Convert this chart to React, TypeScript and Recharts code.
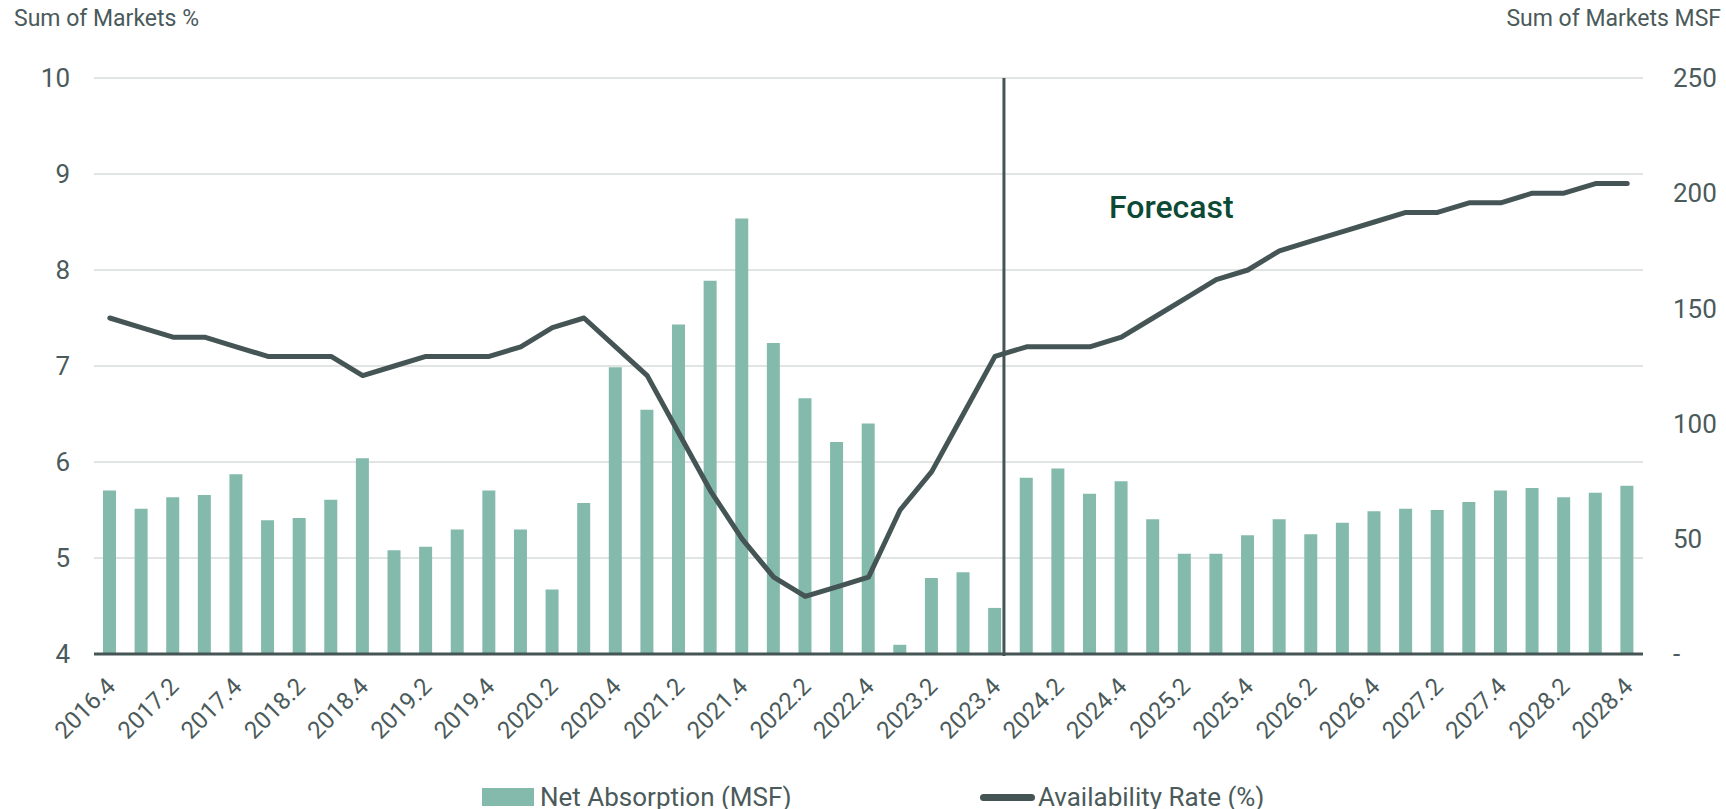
import {
  Bar,
  CartesianGrid,
  ComposedChart,
  Legend,
  Line,
  ReferenceLine,
  XAxis,
  YAxis,
} from "recharts";

const quarters = [
  "2016.4",
  "2017.1", "2017.2", "2017.3", "2017.4",
  "2018.1", "2018.2", "2018.3", "2018.4",
  "2019.1", "2019.2", "2019.3", "2019.4",
  "2020.1", "2020.2", "2020.3", "2020.4",
  "2021.1", "2021.2", "2021.3", "2021.4",
  "2022.1", "2022.2", "2022.3", "2022.4",
  "2023.1", "2023.2", "2023.3", "2023.4",
  "2024.1", "2024.2", "2024.3", "2024.4",
  "2025.1", "2025.2", "2025.3", "2025.4",
  "2026.1", "2026.2", "2026.3", "2026.4",
  "2027.1", "2027.2", "2027.3", "2027.4",
  "2028.1", "2028.2", "2028.3", "2028.4",
];

// Net absorption, MSF (right axis)
const netAbsorption = [
  71,
  63, 68, 69, 78,
  58, 59, 67, 85,
  45, 46.5, 54, 71,
  54, 28, 65.5, 124.5,
  106, 143, 162, 189,
  135, 111, 92, 100,
  4, 33, 35.5, 20,
  76.5, 80.5, 69.5, 75,
  58.5, 43.5, 43.5, 51.5,
  58.5, 52, 57, 62,
  63, 62.5, 66, 71,
  72, 68, 70, 73,
];

// Availability rate, % (left axis)
const availabilityRate = [
  7.5,
  7.4, 7.3, 7.3, 7.2,
  7.1, 7.1, 7.1, 6.9,
  7.0, 7.1, 7.1, 7.1,
  7.2, 7.4, 7.5, 7.2,
  6.9, 6.3, 5.7, 5.2,
  4.8, 4.6, 4.7, 4.8,
  5.5, 5.9, 6.5, 7.1,
  7.2, 7.2, 7.2, 7.3,
  7.5, 7.7, 7.9, 8.0,
  8.2, 8.3, 8.4, 8.5,
  8.6, 8.6, 8.7, 8.7,
  8.8, 8.8, 8.9, 8.9,
];

const leftTicks = [4, 5, 6, 7, 8, 9, 10];
const rightTicks = [0, 50, 100, 150, 200, 250];
const forecastFrom = "2023.4";

const data = quarters.map((quarter, i) => ({
  quarter,
  absorption: netAbsorption[i],
  rate: availabilityRate[i],
}));

const TEXT = "#4b5a5a";
const BAR = "#83baac";
const LINE = "#455555";
const FONT = "Roboto, 'Noto Sans', sans-serif";

function XTick({ x, y, payload }: any) {
  const ax = x + 7;
  const ay = y + 32;
  return (
    <text
      x={ax}
      y={ay}
      transform={`rotate(-45, ${ax}, ${ay})`}
      textAnchor="end"
      fill={TEXT}
      fontSize={24}
      fontFamily={FONT}
    >
      {payload.value}
    </text>
  );
}

function LegendContent({ payload }: any) {
  const lefts = [482, 980];
  // bars first, then the line, as in the source chart
  const items = (payload || [])
    .slice()
    .sort((a: any, b: any) => (a.type === "line" ? 1 : 0) - (b.type === "line" ? 1 : 0));
  return (
    <div style={{ position: "relative", height: 0 }}>
      {items.map((item: any, i: number) => (
        <div
          key={item.value}
          style={{
            position: "absolute",
            left: lefts[i],
            top: 784,
            height: 26,
            display: "flex",
            alignItems: "center",
            whiteSpace: "nowrap",
            fontFamily: FONT,
            fontSize: 26,
            lineHeight: "26px",
            color: TEXT,
          }}
        >
          {item.type === "line" ? (
            <span
              style={{
                display: "inline-block",
                width: 55,
                height: 7,
                borderRadius: 4,
                background: LINE,
                marginRight: 3,
              }}
            />
          ) : (
            <span
              style={{
                display: "inline-block",
                width: 52,
                height: 18,
                background: BAR,
                marginRight: 6,
              }}
            />
          )}
          {item.value}
        </div>
      ))}
    </div>
  );
}

export default function App() {
  return (
    <div
      style={{
        position: "absolute",
        left: 0,
        top: 0,
        width: 1726,
        height: 809,
        background: "#fff",
        fontFamily: FONT,
        overflow: "hidden",
      }}
    >
      <div
        style={{
          position: "absolute",
          left: 14,
          top: 6,
          fontSize: 23,
          lineHeight: "26px",
          color: TEXT,
        }}
      >
        Sum of Markets %
      </div>
      <div
        style={{
          position: "absolute",
          right: 5,
          top: 6,
          fontSize: 23,
          lineHeight: "26px",
          color: TEXT,
        }}
      >
        Sum of Markets MSF
      </div>
      <ComposedChart
        width={1726}
        height={809}
        data={data}
        margin={{ top: 78, right: 0, bottom: 0, left: 0 }}
        barCategoryGap={0}
      >
        <CartesianGrid
          vertical={false}
          yAxisId="left"
          stroke="#d6dcdb"
          strokeWidth={1.5}
        />
        <XAxis
          dataKey="quarter"
          interval={1}
          height={155}
          tickLine={false}
          tickSize={0}
          axisLine={{ stroke: LINE, strokeWidth: 3 }}
          tick={<XTick />}
        />
        <YAxis
          yAxisId="left"
          orientation="left"
          width={94}
          domain={[4, 10]}
          ticks={leftTicks}
          axisLine={false}
          tickLine={false}
          tickSize={0}
          tickMargin={24}
          tick={{ fill: TEXT, fontSize: 26, fontFamily: FONT }}
        />
        <YAxis
          yAxisId="right"
          orientation="right"
          width={83}
          domain={[0, 250]}
          ticks={rightTicks}
          axisLine={false}
          tickLine={false}
          tickSize={0}
          tickMargin={30}
          tickFormatter={(v: number) => (v === 0 ? "-" : String(v))}
          tick={{ fill: TEXT, fontSize: 26, fontFamily: FONT, textAnchor: "start" }}
        />
        <Legend
          verticalAlign="bottom"
          wrapperStyle={{ left: 0, top: 0, bottom: "auto", width: 1726, height: 0 }}
          content={<LegendContent />}
        />
        <Bar
          yAxisId="right"
          dataKey="absorption"
          name="Net Absorption (MSF)"
          fill={BAR}
          barSize={13}
          isAnimationActive={false}
          legendType="rect"
        />
        <Line
          yAxisId="left"
          dataKey="rate"
          name="Availability Rate (%)"
          type="linear"
          stroke={LINE}
          strokeWidth={5}
          strokeLinejoin="round"
          strokeLinecap="round"
          dot={false}
          activeDot={false}
          isAnimationActive={false}
          legendType="line"
        />
        <ReferenceLine
          x={forecastFrom}
          yAxisId="left"
          stroke={LINE}
          strokeWidth={3}
          shape={(p: any) => (
            <line
              x1={p.x1 + 9}
              x2={p.x2 + 9}
              y1={p.y1 + 2}
              y2={p.y2}
              stroke={LINE}
              strokeWidth={3}
            />
          )}
          label={(p: any) => (
            <text
              x={p.viewBox.x + 114}
              y={p.viewBox.y + 140}
              fill="#0d4a35"
              fontSize={32}
              fontWeight={500}
              fontFamily={FONT}
            >
              Forecast
            </text>
          )}
        />
      </ComposedChart>
    </div>
  );
}
